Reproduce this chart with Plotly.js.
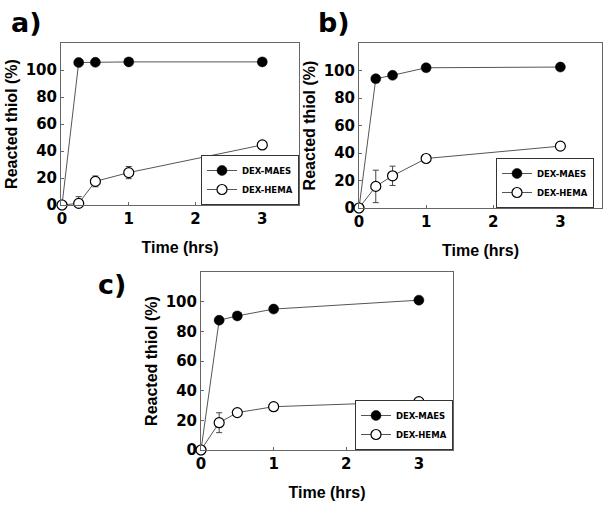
<!DOCTYPE html>
<html><head><meta charset="utf-8">
<script src="https://cdn.plot.ly/plotly-3.0.1.min.js"></script>
<style>html,body{margin:0;padding:0;background:#fff}#chart{width:604px;height:512px}</style>
</head><body><div id="chart"></div>
<script>
const time = [0, 0.25, 0.5, 1, 3];
const aMaes = [0, 105.5, 105.7, 106, 106];
const aHema = [0, 1.2, 17.5, 24, 44.5];
const aHemaErr = [0, 5, 4, 4.5, 1];
const bMaes = [0, 94, 96.5, 102, 102.5];
const bHema = [0, 15.7, 23.4, 36, 45];
const bHemaErr = [0, 11.8, 7, 1, 1.8];
const cMaes = [0, 87.5, 90.4, 95, 101];
const cHema = [0, 18.4, 25.2, 29.2, 32.6];
const cHemaErr = [0, 6.7, 0, 0, 0];
const seriesNames = ['DEX-MAES', 'DEX-HEMA'];
const panelLabels = ['a)', 'b)', 'c)'];
const xTicks = [0, 1, 2, 3];
const yTicks = [0, 20, 40, 60, 80, 100];

const W = 604, H = 512;
const boxes = [
  {l: 61, r: 299, t: 43, b: 205, xr: [-0.015, 3.55], lgR: 299},
  {l: 359, r: 602, t: 43, b: 208, xr: [0, 3.62], lgR: 594},
  {l: 201, r: 453, t: 272, b: 450, xr: [0, 3.47], lgR: 453}
];
const panels = [[aMaes, aHema, aHemaErr], [bMaes, bHema, bHemaErr], [cMaes, cHema, cHemaErr]];
const lineCol = '#555';
const font = 'Liberation Sans, Arial, sans-serif';
const wide = 'DejaVu Sans, sans-serif';

const traces = [];
const layout = {
  width: W, height: H, margin: {l: 0, r: 0, t: 0, b: 0},
  paper_bgcolor: '#fff', plot_bgcolor: '#fff', showlegend: true,
  font: {family: font, color: '#000'}, annotations: []
};
panels.forEach((p, i) => {
  const s = i === 0 ? '' : String(i + 1);
  const bx = boxes[i];
  const lg = i === 0 ? 'legend' : 'legend' + (i + 1);
  traces.push({
    x: time, y: p[0], name: seriesNames[0], type: 'scatter', mode: 'lines+markers',
    xaxis: 'x' + s, yaxis: 'y' + s, legend: lg, cliponaxis: false,
    line: {color: lineCol, width: 1},
    marker: {size: 10, color: '#000', line: {color: '#000', width: 0.5}}
  });
  traces.push({
    x: time, y: p[1], name: seriesNames[1], type: 'scatter', mode: 'lines+markers',
    xaxis: 'x' + s, yaxis: 'y' + s, legend: lg, cliponaxis: false,
    line: {color: lineCol, width: 1},
    error_y: {type: 'data', array: p[2], visible: true, color: '#444', thickness: 1, width: 3},
    marker: {size: 10, color: '#fff', line: {color: '#000', width: 1.2}}
  });
  const ax = {
    domain: [bx.l / W, bx.r / W], range: bx.xr, tickvals: xTicks, ticktext: xTicks.map(String),
    anchor: 'y' + s, showgrid: false, zeroline: false, showline: true, mirror: true,
    linecolor: '#666', linewidth: 1, ticks: 'inside', ticklen: 3, tickcolor: '#666',
    tickfont: {family: wide, size: 15, color: '#000', weight: 'bold'},
    title: {text: '<b>Time (hrs)</b>', font: {family: font, size: 16, color: '#000'}, standoff: 14}
  };
  const ay = {
    domain: [1 - bx.b / H, 1 - bx.t / H], range: [0, 120], tickvals: yTicks,
    anchor: 'x' + s, showgrid: false, zeroline: false, showline: true, mirror: true,
    linecolor: '#666', linewidth: 1, ticks: 'inside', ticklen: 3, tickcolor: '#666',
    tickfont: {family: wide, size: 15, color: '#000', weight: 'bold'},
    title: {text: '<b>Reacted thiol (%)</b>', font: {family: font, size: 16, color: '#000'}, standoff: 4}
  };
  layout['xaxis' + s] = ax;
  layout['yaxis' + s] = ay;
  layout[lg] = {
    x: bx.lgR / W, y: 1 - bx.b / H, xanchor: 'right', yanchor: 'bottom',
    xref: 'paper', yref: 'paper',
    bgcolor: '#fff', bordercolor: '#333', borderwidth: 1,
    font: {family: wide, size: 8.5, color: '#000', weight: 'bold'},
    tracegroupgap: 0, itemwidth: 30
  };
  const lblPos = [[9, 22], [316, 22], [96, 284]][i];
  layout.annotations.push({
    text: '<b>' + panelLabels[i] + '</b>', xref: 'paper', yref: 'paper',
    x: lblPos[0] / W, y: 1 - lblPos[1] / H, xanchor: 'left', yanchor: 'middle',
    showarrow: false, font: {family: wide, size: 27, color: '#000'}
  });
});
Plotly.newPlot('chart', traces, layout, {displayModeBar: false, staticPlot: true});
</script></body></html>
